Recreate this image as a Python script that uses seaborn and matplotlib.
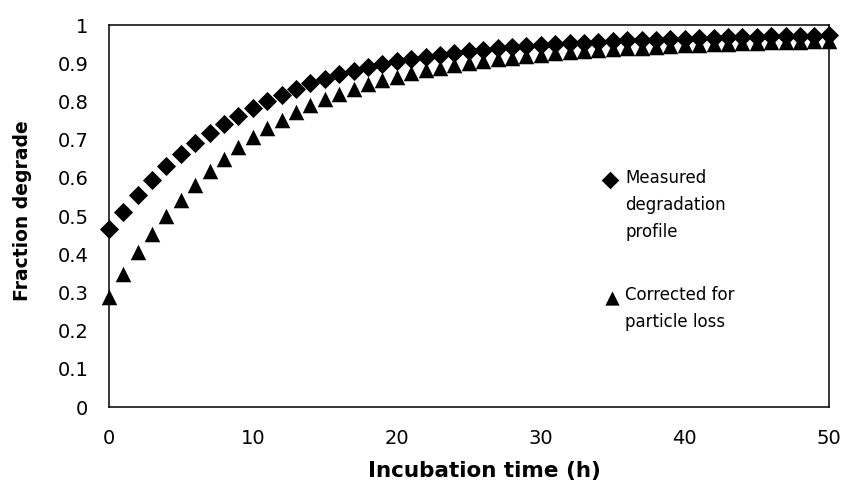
import numpy as np
import pandas as pd
import matplotlib
matplotlib.use("Agg")
import matplotlib.pyplot as plt
import seaborn as sns

# ---- data ----
time_h = list(range(0, 51))
measured = [0.466, 0.511, 0.555, 0.594, 0.630, 0.663, 0.692, 0.717, 0.741, 0.763,
            0.783, 0.801, 0.818, 0.834, 0.848, 0.860, 0.871, 0.881, 0.890, 0.898,
            0.905, 0.911, 0.917, 0.922, 0.927, 0.931, 0.935, 0.939, 0.942, 0.945,
            0.948, 0.950, 0.952, 0.954, 0.956, 0.958, 0.960, 0.961, 0.962, 0.964,
            0.965, 0.966, 0.967, 0.968, 0.969, 0.970, 0.971, 0.971, 0.972, 0.972,
            0.973]
corrected = [0.287, 0.348, 0.405, 0.453, 0.500, 0.543, 0.582, 0.617, 0.650, 0.680,
             0.707, 0.731, 0.752, 0.772, 0.790, 0.806, 0.820, 0.833, 0.845, 0.856,
             0.865, 0.874, 0.882, 0.889, 0.895, 0.901, 0.906, 0.911, 0.915, 0.919,
             0.923, 0.926, 0.929, 0.932, 0.935, 0.937, 0.939, 0.941, 0.943, 0.945,
             0.947, 0.948, 0.950, 0.951, 0.952, 0.954, 0.955, 0.956, 0.957, 0.958,
             0.959]
series_names = ["Measured\ndegradation\nprofile", "Corrected for\nparticle loss"]
x_ticks = [0, 10, 20, 30, 40, 50]
y_ticks = [0, 0.1, 0.2, 0.3, 0.4, 0.5, 0.6, 0.7, 0.8, 0.9, 1.0]
y_tick_labels = ["0", "0.1", "0.2", "0.3", "0.4", "0.5", "0.6", "0.7", "0.8", "0.9", "1"]

df = pd.DataFrame({
    "t": time_h * 2,
    "frac": measured + corrected,
    "series": [series_names[0]] * len(time_h) + [series_names[1]] * len(time_h),
})

sns.set_theme(style="white")
plt.rcParams["font.family"] = ["DejaVu Sans"]
plt.rcParams["text.color"] = "black"
plt.rcParams["axes.labelcolor"] = "black"

fig = plt.figure(figsize=(8.44, 4.93), dpi=100)
ax = fig.add_axes([0.129, 0.1744, 0.853, 0.7746])

markers = {series_names[0]: "D", series_names[1]: "^"}
sizes_pt = {series_names[0]: 95, series_names[1]: 125}
for name in series_names:
    sub = df[df["series"] == name]
    sns.scatterplot(data=sub, x="t", y="frac", marker=markers[name],
                    s=sizes_pt[name], color="black", edgecolor="black",
                    linewidth=0, ax=ax, legend=False, clip_on=False, zorder=3)

ax.set_xlim(0, 50)
ax.set_ylim(0, 1)
ax.set_xticks(x_ticks)
ax.set_xticklabels([str(v) for v in x_ticks])
ax.set_yticks(y_ticks)
ax.set_yticklabels(y_tick_labels)
ax.tick_params(axis="both", direction="inout", length=9.4, width=1.0,
               color="black", labelsize=14, labelcolor="black")
ax.tick_params(axis="y", pad=10)
ax.tick_params(axis="x", pad=11)
for sp in ax.spines.values():
    sp.set_visible(True)
    sp.set_color("black")
    sp.set_linewidth(1.1)

ax.set_xlabel("Incubation time (h)", fontsize=15.5, fontweight="bold", color="black")
ax.set_ylabel("Fraction degrade", fontsize=13.5, fontweight="bold", color="black")
ax.xaxis.set_label_coords(0.522, -0.141)
ax.yaxis.set_label_coords(-0.107, 0.515)

# legend drawn in axes coordinates
ax.scatter([0.696], [0.594], marker="D", s=80, color="black", linewidths=0,
           transform=ax.transAxes, clip_on=False)
ax.scatter([0.699], [0.285], marker="^", s=105, color="black", linewidths=0,
           transform=ax.transAxes, clip_on=False)
legend_rows = [(0.605, 0.0707, series_names[0]), (0.298, 0.0707, series_names[1])]
for y0, step, label in legend_rows:
    for i, line in enumerate(label.split("\n")):
        ax.text(0.717, y0 - i * step, line, transform=ax.transAxes, fontsize=12,
                va="center_baseline", ha="left", color="black")

fig.savefig("out.png", dpi=100)
